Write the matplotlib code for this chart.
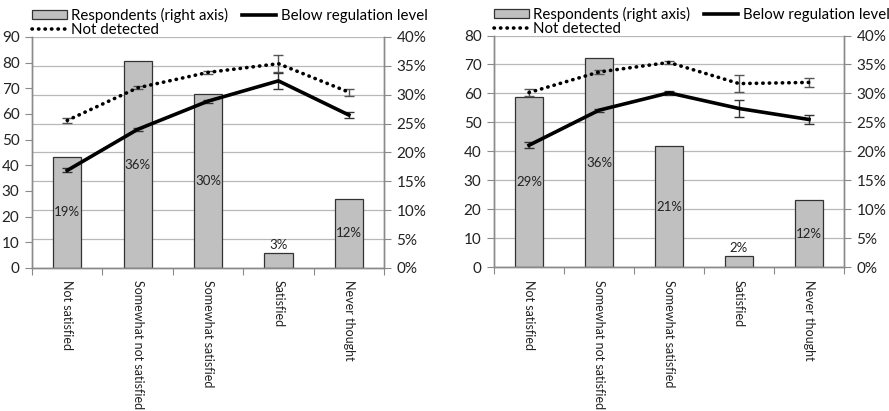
import matplotlib
matplotlib.use("Agg")
import matplotlib.pyplot as plt
from matplotlib.patches import Patch
from matplotlib.lines import Line2D
from matplotlib.ticker import FuncFormatter, MultipleLocator

plt.rcParams['font.family'] = ['Lato', 'DejaVu Sans']

categories = ["Not satisfied", "Somewhat not satisfied", "Somewhat satisfied",
              "Satisfied", "Never thought"]

# respondents share (%) - right axis
resp_a = [19.3, 35.8, 30.2, 2.6, 12.0]
resp_b = [29.3, 36.1, 20.9, 1.9, 11.6]

# left axis series with error bars
not_det_a = [57.5, 70.2, 76.2, 79.6, 68.5]
not_det_a_err = [1.1, 0.6, 0.6, 3.2, 1.4]
below_a = [38.0, 54.0, 65.0, 72.9, 59.6]
below_a_err = [0.8, 0.6, 0.6, 3.2, 1.2]

not_det_b = [60.3, 67.4, 70.7, 63.4, 63.8]
not_det_b_err = [1.1, 0.6, 0.6, 2.9, 1.6]
below_b = [42.1, 54.2, 60.2, 54.8, 51.0]
below_b_err = [1.1, 0.5, 0.6, 3.0, 1.4]

panels = [
    dict(resp=resp_a, nd=not_det_a, nd_err=not_det_a_err, bl=below_a, bl_err=below_a_err,
         ymax=90, rect=[0.036, 0.348, 0.396, 0.562]),
    dict(resp=resp_b, nd=not_det_b, nd_err=not_det_b_err, bl=below_b, bl_err=below_b_err,
         ymax=80, rect=[0.5557, 0.350, 0.3937, 0.5636]),
]

AXIS_GRAY = "#8a8a8a"
GRID_GRAY = "#b8b8b8"
BAR_FILL = "#c0c0c0"
TEXT = "#222222"

fig = plt.figure(figsize=(8.89, 4.11), dpi=100)

x = list(range(len(categories)))

for p in panels:
    ax = fig.add_axes(p['rect'])
    ax2 = ax.twinx()
    # lines above the bars
    ax.set_zorder(2)
    ax2.set_zorder(1)
    ax.patch.set_visible(False)

    # bars on the right axis, grid drawn behind them
    ax2.set_ylim(0, 40)
    ax2.yaxis.set_major_locator(MultipleLocator(5))
    ax2.yaxis.set_major_formatter(FuncFormatter(lambda v, _: f"{v:.0f}%"))
    ax2.set_axisbelow(True)
    ax2.grid(axis='y', color=GRID_GRAY, lw=0.9)
    ax2.bar(x, p['resp'], width=0.4, color=BAR_FILL, edgecolor="#333333", lw=0.9)
    for xi, v in zip(x, p['resp']):
        if v < 5:
            ax2.text(xi, v + 0.3, f"{v:.0f}%", ha='center', va='bottom', fontsize=9.5, color=TEXT)
        else:
            ax2.text(xi, v / 2, f"{v:.0f}%", ha='center', va='center', fontsize=9.5, color=TEXT)

    # left-axis lines with error bars
    ax.set_ylim(0, p['ymax'])
    ax.yaxis.set_major_locator(MultipleLocator(10))
    ax.errorbar(x, p['nd'], yerr=p['nd_err'], color='black', lw=2.6,
                linestyle=(0, (0.1, 1.7)), dash_capstyle='round',
                ecolor="#555555", elinewidth=1.0, capsize=3.5, capthick=1.0)
    ax.errorbar(x, p['bl'], yerr=p['bl_err'], color='black', lw=2.6,
                ecolor="#333333", elinewidth=1.0, capsize=3.5, capthick=1.0)

    ax.set_xlim(-0.5, len(categories) - 0.5)
    ax.set_xticks([i - 0.5 for i in range(len(categories) + 1)])
    ax.set_xticklabels([])
    ax.set_xticks(x, minor=True)
    ax.set_xticklabels(categories, minor=True, rotation=-90, va='top', ha='center',
                       fontsize=9, color=TEXT)
    ax.tick_params(axis='x', which='major', length=5, color=AXIS_GRAY, direction='out')
    ax.tick_params(axis='x', which='minor', length=0, pad=9)
    ax.tick_params(axis='y', length=5, color=AXIS_GRAY, labelsize=11, labelcolor=TEXT, pad=4)
    ax2.tick_params(axis='y', length=5, color=AXIS_GRAY, labelsize=11, labelcolor=TEXT, pad=4)

    for a in (ax, ax2):
        a.spines['top'].set_visible(False)
        for s in ('left', 'right', 'bottom'):
            a.spines[s].set_color(AXIS_GRAY)
            a.spines[s].set_linewidth(1.0)

    handles = [
        Patch(facecolor=BAR_FILL, edgecolor="#333333", lw=0.9, label="Respondents (right axis)"),
        Line2D([], [], color='black', lw=2.6, linestyle=(0, (0.1, 1.7)),
               dash_capstyle='round', label="Not detected"),
        Line2D([], [], color='black', lw=2.6, label="Below regulation level"),
    ]
    ax.legend(handles=handles, ncol=2, loc='lower left', bbox_to_anchor=(0.0, 1.0),
              frameon=False, fontsize=10.8, handlelength=2.3, handleheight=0.55,
              handletextpad=0.3, columnspacing=0.9, labelspacing=0.0,
              borderaxespad=0, borderpad=0)

fig.savefig("out.png", dpi=100)
